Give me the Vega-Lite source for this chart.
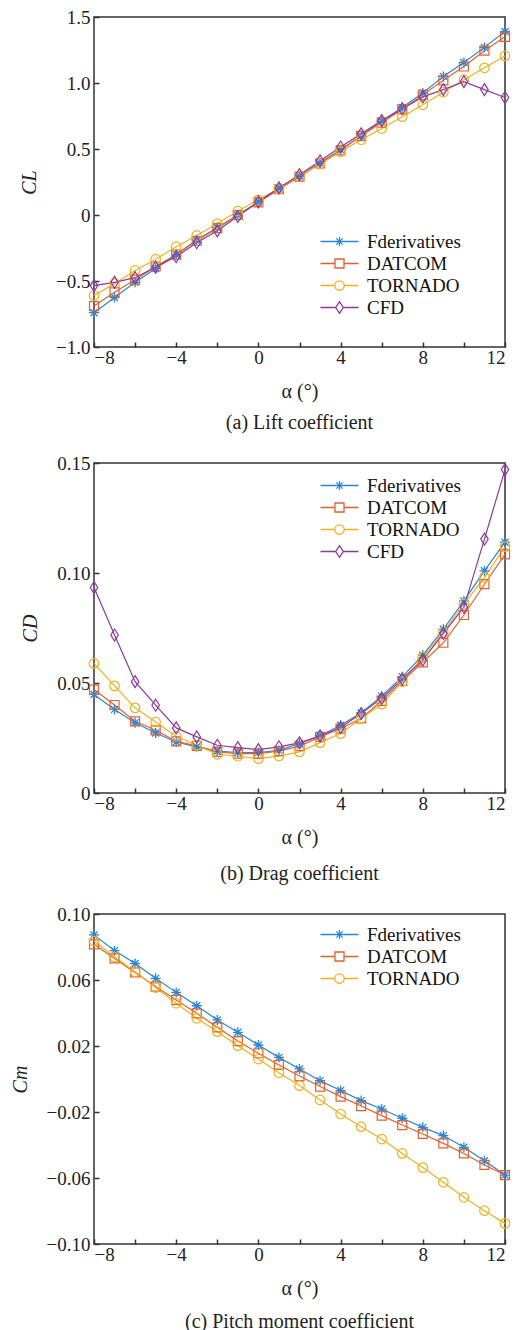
{
  "$schema": "https://vega.github.io/schema/vega-lite/v6.json",
  "padding": {"left": 9, "top": 7, "right": 5, "bottom": 5},
  "spacing": 19,
  "background": "white",
  "datasets": {
    "cl": [
      {"a": -8, "Fderivatives": -0.74, "DATCOM": -0.69, "TORNADO": -0.61, "CFD": -0.535},
      {"a": -7, "Fderivatives": -0.625, "DATCOM": -0.585, "TORNADO": -0.52, "CFD": -0.51},
      {"a": -6, "Fderivatives": -0.51, "DATCOM": -0.49, "TORNADO": -0.42, "CFD": -0.475},
      {"a": -5, "Fderivatives": -0.405, "DATCOM": -0.39, "TORNADO": -0.335, "CFD": -0.395},
      {"a": -4, "Fderivatives": -0.3, "DATCOM": -0.3, "TORNADO": -0.24, "CFD": -0.315},
      {"a": -3, "Fderivatives": -0.19, "DATCOM": -0.195, "TORNADO": -0.155, "CFD": -0.21},
      {"a": -2, "Fderivatives": -0.095, "DATCOM": -0.1, "TORNADO": -0.065, "CFD": -0.12},
      {"a": -1, "Fderivatives": 0.0, "DATCOM": 0.0, "TORNADO": 0.03, "CFD": -0.01},
      {"a": 0, "Fderivatives": 0.1, "DATCOM": 0.095, "TORNADO": 0.115, "CFD": 0.1},
      {"a": 1, "Fderivatives": 0.205, "DATCOM": 0.195, "TORNADO": 0.2, "CFD": 0.205},
      {"a": 2, "Fderivatives": 0.295, "DATCOM": 0.29, "TORNADO": 0.295, "CFD": 0.305},
      {"a": 3, "Fderivatives": 0.395, "DATCOM": 0.39, "TORNADO": 0.385, "CFD": 0.41},
      {"a": 4, "Fderivatives": 0.495, "DATCOM": 0.49, "TORNADO": 0.48, "CFD": 0.515},
      {"a": 5, "Fderivatives": 0.6, "DATCOM": 0.6, "TORNADO": 0.57, "CFD": 0.615},
      {"a": 6, "Fderivatives": 0.71, "DATCOM": 0.7, "TORNADO": 0.655, "CFD": 0.715},
      {"a": 7, "Fderivatives": 0.815, "DATCOM": 0.8, "TORNADO": 0.745, "CFD": 0.805},
      {"a": 8, "Fderivatives": 0.925, "DATCOM": 0.91, "TORNADO": 0.835, "CFD": 0.895},
      {"a": 9, "Fderivatives": 1.05, "DATCOM": 1.02, "TORNADO": 0.93, "CFD": 0.95},
      {"a": 10, "Fderivatives": 1.155, "DATCOM": 1.125, "TORNADO": 1.025, "CFD": 1.01},
      {"a": 11, "Fderivatives": 1.27, "DATCOM": 1.245, "TORNADO": 1.115, "CFD": 0.95},
      {"a": 12, "Fderivatives": 1.39, "DATCOM": 1.35, "TORNADO": 1.205, "CFD": 0.89}
    ],
    "cd": [
      {"a": -8, "Fderivatives": 0.0448, "DATCOM": 0.047, "TORNADO": 0.0589, "CFD": 0.0934},
      {"a": -7, "Fderivatives": 0.038, "DATCOM": 0.04, "TORNADO": 0.0487, "CFD": 0.0718},
      {"a": -6, "Fderivatives": 0.0319, "DATCOM": 0.0326, "TORNADO": 0.0387, "CFD": 0.0506},
      {"a": -5, "Fderivatives": 0.0273, "DATCOM": 0.0285, "TORNADO": 0.0323, "CFD": 0.0399},
      {"a": -4, "Fderivatives": 0.0232, "DATCOM": 0.0235, "TORNADO": 0.0258, "CFD": 0.0296},
      {"a": -3, "Fderivatives": 0.021, "DATCOM": 0.0214, "TORNADO": 0.0217, "CFD": 0.0255},
      {"a": -2, "Fderivatives": 0.019, "DATCOM": 0.0187, "TORNADO": 0.0176, "CFD": 0.0217},
      {"a": -1, "Fderivatives": 0.0184, "DATCOM": 0.0179, "TORNADO": 0.0167, "CFD": 0.0206},
      {"a": 0, "Fderivatives": 0.0184, "DATCOM": 0.0179, "TORNADO": 0.0156, "CFD": 0.0197},
      {"a": 1, "Fderivatives": 0.0194, "DATCOM": 0.019, "TORNADO": 0.0168, "CFD": 0.021},
      {"a": 2, "Fderivatives": 0.0225, "DATCOM": 0.0213, "TORNADO": 0.0187, "CFD": 0.0228},
      {"a": 3, "Fderivatives": 0.026, "DATCOM": 0.0255, "TORNADO": 0.0229, "CFD": 0.026},
      {"a": 4, "Fderivatives": 0.0308, "DATCOM": 0.0293, "TORNADO": 0.027, "CFD": 0.0298},
      {"a": 5, "Fderivatives": 0.0364, "DATCOM": 0.0339, "TORNADO": 0.0339, "CFD": 0.0361},
      {"a": 6, "Fderivatives": 0.044, "DATCOM": 0.0419, "TORNADO": 0.0404, "CFD": 0.043},
      {"a": 7, "Fderivatives": 0.0528, "DATCOM": 0.0509, "TORNADO": 0.0506, "CFD": 0.0518},
      {"a": 8, "Fderivatives": 0.0627, "DATCOM": 0.0594, "TORNADO": 0.0619, "CFD": 0.0604},
      {"a": 9, "Fderivatives": 0.0744, "DATCOM": 0.0683, "TORNADO": 0.073, "CFD": 0.0726},
      {"a": 10, "Fderivatives": 0.0873, "DATCOM": 0.0809, "TORNADO": 0.0859, "CFD": 0.0844},
      {"a": 11, "Fderivatives": 0.101, "DATCOM": 0.0949, "TORNADO": 0.098, "CFD": 0.1154},
      {"a": 12, "Fderivatives": 0.114, "DATCOM": 0.1085, "TORNADO": 0.112, "CFD": 0.147}
    ],
    "cm": [
      {"a": -8, "Fderivatives": 0.0873, "DATCOM": 0.0816, "TORNADO": 0.0836},
      {"a": -7, "Fderivatives": 0.0778, "DATCOM": 0.0731, "TORNADO": 0.0741},
      {"a": -6, "Fderivatives": 0.07, "DATCOM": 0.0646, "TORNADO": 0.065},
      {"a": -5, "Fderivatives": 0.061, "DATCOM": 0.056, "TORNADO": 0.0554},
      {"a": -4, "Fderivatives": 0.0525, "DATCOM": 0.0479, "TORNADO": 0.0459},
      {"a": -3, "Fderivatives": 0.0444, "DATCOM": 0.0398, "TORNADO": 0.0368},
      {"a": -2, "Fderivatives": 0.0358, "DATCOM": 0.0313, "TORNADO": 0.0287},
      {"a": -1, "Fderivatives": 0.0283, "DATCOM": 0.023, "TORNADO": 0.0202},
      {"a": 0, "Fderivatives": 0.0206, "DATCOM": 0.0156, "TORNADO": 0.0121},
      {"a": 1, "Fderivatives": 0.0131, "DATCOM": 0.0085, "TORNADO": 0.0038},
      {"a": 2, "Fderivatives": 0.0061, "DATCOM": 0.0018, "TORNADO": -0.004},
      {"a": 3, "Fderivatives": -0.001, "DATCOM": -0.0046, "TORNADO": -0.0127},
      {"a": 4, "Fderivatives": -0.007, "DATCOM": -0.0107, "TORNADO": -0.0212},
      {"a": 5, "Fderivatives": -0.0131, "DATCOM": -0.0164, "TORNADO": -0.0289},
      {"a": 6, "Fderivatives": -0.0182, "DATCOM": -0.0222, "TORNADO": -0.0364},
      {"a": 7, "Fderivatives": -0.0238, "DATCOM": -0.0279, "TORNADO": -0.0451},
      {"a": 8, "Fderivatives": -0.0293, "DATCOM": -0.0333, "TORNADO": -0.0537},
      {"a": 9, "Fderivatives": -0.0343, "DATCOM": -0.039, "TORNADO": -0.0626},
      {"a": 10, "Fderivatives": -0.0414, "DATCOM": -0.0451, "TORNADO": -0.0717},
      {"a": 11, "Fderivatives": -0.0495, "DATCOM": -0.0521, "TORNADO": -0.0798},
      {"a": 12, "Fderivatives": -0.0582, "DATCOM": -0.0582, "TORNADO": -0.0875}
    ]
  },
  "resolve": {
    "scale": {"color": "independent", "x": "independent", "y": "independent"},
    "legend": {"color": "independent"}
  },
  "vconcat": [
    {
      "width": 411, "height": 330,
      "data": {"name": "cl"},
      "transform": [{"fold": ["Fderivatives", "DATCOM", "TORNADO", "CFD"], "as": ["s", "v"]}],
      "title": {"text": "(a) Lift coefficient", "orient": "bottom", "anchor": "middle", "frame": "group", "offset": 12},
      "encoding": {
        "x": {"field": "a", "type": "quantitative", "scale": {"domain": [-8, 12], "nice": false},
              "axis": {"values": [-8, -6, -4, -2, 0, 2, 4, 6, 8, 10, 12], "labelExpr": "datum.value % 4 == 0 ? format(datum.value, 'd') : ''", "title": "α (°)", "labelPadding": 6, "titlePadding": 14}},
        "y": {"field": "v", "type": "quantitative", "scale": {"domain": [-1, 1.5], "nice": false},
              "axis": {"values": [-1, -0.5, 0, 0.5, 1, 1.5], "labelExpr": "datum.value == 0 ? '0' : format(datum.value, '.1f')", "title": "CL", "titleFontStyle": "italic", "labelPadding": 9, "titlePadding": 16}},
        "color": {"field": "s", "type": "nominal",
                  "scale": {"domain": ["Fderivatives", "DATCOM", "TORNADO", "CFD"], "range": ["#2a86d6", "#e4602f", "#f2b01e", "#8b3a9e"]},
                  "legend": {"orient": "none", "legendX": 234, "legendY": 213, "title": null, "padding": 0, "symbolSize": 441, "labelFont": "Liberation Serif", "labelFontSize": 19, "labelColor": "#111", "labelOffset": 16, "rowPadding": -1, "symbolStrokeWidth": 1.3,
                    "encoding": {"symbols": {
                      "shape": {"value": {"expr": "datum.value=='Fderivatives' ? 'M-1.81,0L1.81,0M-0.43,0L0.43,0M0,-0.43L0,0.43M-0.3,-0.3L0.3,0.3M-0.3,0.3L0.3,-0.3' : datum.value=='DATCOM' ? 'M-1.81,0L-0.43,0M0.43,0L1.81,0M-0.43,-0.43L0.43,-0.43L0.43,0.43L-0.43,0.43Z' : datum.value=='TORNADO' ? 'M-1.81,0L-0.45,0M0.45,0L1.81,0M-0.45,0A0.45,0.45,0,1,0,0.45,0A0.45,0.45,0,1,0,-0.45,0Z' : 'M-1.81,0L-0.36,0M0.36,0L1.81,0M0,-0.55L0.36,0L0,0.55L-0.36,0Z'"}}
                    }}}}
      },
      "layer": [
        {"mark": {"type": "line", "strokeWidth": 1.2}},
        {"transform": [{"filter": "datum.s == 'Fderivatives'"}], "mark": {"type": "point", "filled": false, "size": 100, "strokeWidth": 1.3, "opacity": 1, "shape": "M-1,0L1,0M0,-1L0,1M-0.7,-0.7L0.7,0.7M-0.7,0.7L0.7,-0.7"}},
        {"transform": [{"filter": "datum.s == 'DATCOM'"}], "mark": {"type": "point", "filled": false, "size": 100, "strokeWidth": 1.2, "opacity": 1, "shape": "M-0.9,-0.9L0.9,-0.9L0.9,0.9L-0.9,0.9Z"}},
        {"transform": [{"filter": "datum.s == 'TORNADO'"}], "mark": {"type": "point", "filled": false, "size": 100, "strokeWidth": 1.2, "opacity": 1, "shape": "M-0.95,0A0.95,0.95,0,1,0,0.95,0A0.95,0.95,0,1,0,-0.95,0Z"}},
        {"transform": [{"filter": "datum.s == 'CFD'"}], "mark": {"type": "point", "filled": false, "size": 100, "strokeWidth": 1.2, "opacity": 1, "shape": "M0,-1.2L0.75,0L0,1.2L-0.75,0Z"}}
      ]
    },
    {
      "width": 411, "height": 330,
      "data": {"name": "cd"},
      "transform": [{"fold": ["Fderivatives", "DATCOM", "TORNADO", "CFD"], "as": ["s", "v"]}],
      "title": {"text": "(b) Drag coefficient", "orient": "bottom", "anchor": "middle", "frame": "group", "offset": 17},
      "encoding": {
        "x": {"field": "a", "type": "quantitative", "scale": {"domain": [-8, 12], "nice": false},
              "axis": {"values": [-8, -6, -4, -2, 0, 2, 4, 6, 8, 10, 12], "labelExpr": "datum.value % 4 == 0 ? format(datum.value, 'd') : ''", "title": "α (°)", "labelPadding": 6, "titlePadding": 14}},
        "y": {"field": "v", "type": "quantitative", "scale": {"domain": [0, 0.15], "nice": false},
              "axis": {"values": [0, 0.05, 0.1, 0.15], "labelExpr": "datum.value == 0 ? '0' : format(datum.value, '.2f')", "title": "CD", "titleFontStyle": "italic", "labelPadding": 9, "titlePadding": 16}},
        "color": {"field": "s", "type": "nominal",
                  "scale": {"domain": ["Fderivatives", "DATCOM", "TORNADO", "CFD"], "range": ["#2a86d6", "#e4602f", "#f2b01e", "#8b3a9e"]},
                  "legend": {"orient": "none", "legendX": 234, "legendY": 11, "title": null, "padding": 0, "symbolSize": 441, "labelFont": "Liberation Serif", "labelFontSize": 19, "labelColor": "#111", "labelOffset": 16, "rowPadding": -1, "symbolStrokeWidth": 1.3,
                    "encoding": {"symbols": {
                      "shape": {"value": {"expr": "datum.value=='Fderivatives' ? 'M-1.81,0L1.81,0M-0.43,0L0.43,0M0,-0.43L0,0.43M-0.3,-0.3L0.3,0.3M-0.3,0.3L0.3,-0.3' : datum.value=='DATCOM' ? 'M-1.81,0L-0.43,0M0.43,0L1.81,0M-0.43,-0.43L0.43,-0.43L0.43,0.43L-0.43,0.43Z' : datum.value=='TORNADO' ? 'M-1.81,0L-0.45,0M0.45,0L1.81,0M-0.45,0A0.45,0.45,0,1,0,0.45,0A0.45,0.45,0,1,0,-0.45,0Z' : 'M-1.81,0L-0.36,0M0.36,0L1.81,0M0,-0.55L0.36,0L0,0.55L-0.36,0Z'"}}
                    }}}}
      },
      "layer": [
        {"mark": {"type": "line", "strokeWidth": 1.2}},
        {"transform": [{"filter": "datum.s == 'Fderivatives'"}], "mark": {"type": "point", "filled": false, "size": 100, "strokeWidth": 1.3, "opacity": 1, "shape": "M-1,0L1,0M0,-1L0,1M-0.7,-0.7L0.7,0.7M-0.7,0.7L0.7,-0.7"}},
        {"transform": [{"filter": "datum.s == 'DATCOM'"}], "mark": {"type": "point", "filled": false, "size": 100, "strokeWidth": 1.2, "opacity": 1, "shape": "M-0.9,-0.9L0.9,-0.9L0.9,0.9L-0.9,0.9Z"}},
        {"transform": [{"filter": "datum.s == 'TORNADO'"}], "mark": {"type": "point", "filled": false, "size": 100, "strokeWidth": 1.2, "opacity": 1, "shape": "M-0.95,0A0.95,0.95,0,1,0,0.95,0A0.95,0.95,0,1,0,-0.95,0Z"}},
        {"transform": [{"filter": "datum.s == 'CFD'"}], "mark": {"type": "point", "filled": false, "size": 100, "strokeWidth": 1.2, "opacity": 1, "shape": "M0,-1.2L0.75,0L0,1.2L-0.75,0Z"}}
      ]
    },
    {
      "width": 411, "height": 330,
      "data": {"name": "cm"},
      "transform": [{"fold": ["Fderivatives", "DATCOM", "TORNADO"], "as": ["s", "v"]}],
      "title": {"text": "(c) Pitch moment coefficient", "orient": "bottom", "anchor": "middle", "frame": "group", "offset": 14},
      "encoding": {
        "x": {"field": "a", "type": "quantitative", "scale": {"domain": [-8, 12], "nice": false},
              "axis": {"values": [-8, -6, -4, -2, 0, 2, 4, 6, 8, 10, 12], "labelExpr": "datum.value % 4 == 0 ? format(datum.value, 'd') : ''", "title": "α (°)", "labelPadding": 6, "titlePadding": 14}},
        "y": {"field": "v", "type": "quantitative", "scale": {"domain": [-0.1, 0.1], "nice": false},
              "axis": {"values": [-0.1, -0.06, -0.02, 0.02, 0.06, 0.1], "labelExpr": "format(datum.value, '.2f')", "title": "Cm", "titleFontStyle": "italic", "labelPadding": 9, "titlePadding": 16}},
        "color": {"field": "s", "type": "nominal",
                  "scale": {"domain": ["Fderivatives", "DATCOM", "TORNADO"], "range": ["#2a86d6", "#e4602f", "#f2b01e"]},
                  "legend": {"orient": "none", "legendX": 234, "legendY": 9, "title": null, "padding": 0, "symbolSize": 441, "labelFont": "Liberation Serif", "labelFontSize": 19, "labelColor": "#111", "labelOffset": 16, "rowPadding": -1, "symbolStrokeWidth": 1.3,
                    "encoding": {"symbols": {
                      "shape": {"value": {"expr": "datum.value=='Fderivatives' ? 'M-1.81,0L1.81,0M-0.43,0L0.43,0M0,-0.43L0,0.43M-0.3,-0.3L0.3,0.3M-0.3,0.3L0.3,-0.3' : datum.value=='DATCOM' ? 'M-1.81,0L-0.43,0M0.43,0L1.81,0M-0.43,-0.43L0.43,-0.43L0.43,0.43L-0.43,0.43Z' : 'M-1.81,0L-0.45,0M0.45,0L1.81,0M-0.45,0A0.45,0.45,0,1,0,0.45,0A0.45,0.45,0,1,0,-0.45,0Z'"}}
                    }}}}
      },
      "layer": [
        {"mark": {"type": "line", "strokeWidth": 1.2}},
        {"transform": [{"filter": "datum.s == 'Fderivatives'"}], "mark": {"type": "point", "filled": false, "size": 100, "strokeWidth": 1.3, "opacity": 1, "shape": "M-1,0L1,0M0,-1L0,1M-0.7,-0.7L0.7,0.7M-0.7,0.7L0.7,-0.7"}},
        {"transform": [{"filter": "datum.s == 'DATCOM'"}], "mark": {"type": "point", "filled": false, "size": 100, "strokeWidth": 1.2, "opacity": 1, "shape": "M-0.9,-0.9L0.9,-0.9L0.9,0.9L-0.9,0.9Z"}},
        {"transform": [{"filter": "datum.s == 'TORNADO'"}], "mark": {"type": "point", "filled": false, "size": 100, "strokeWidth": 1.2, "opacity": 1, "shape": "M-0.95,0A0.95,0.95,0,1,0,0.95,0A0.95,0.95,0,1,0,-0.95,0Z"}}
      ]
    }
  ],
  "config": {
    "view": {"stroke": "#333", "strokeWidth": 1.5},
    "axis": {"domain": false, "grid": false, "tickColor": "#333", "tickSize": -5, "tickWidth": 1.5,
             "labelFont": "Liberation Serif", "labelFontSize": 19, "labelColor": "#222",
             "titleFont": "Liberation Serif", "titleFontSize": 20, "titleFontWeight": "normal", "titleColor": "#222"},
    "legend": {"labelFont": "Liberation Serif"},
    "style": {"guide-label": {"font": "Liberation Serif"}, "guide-title": {"font": "Liberation Serif"}},
    "title": {"font": "Liberation Serif", "fontSize": 20, "fontWeight": "normal", "color": "#222"}
  }
}
